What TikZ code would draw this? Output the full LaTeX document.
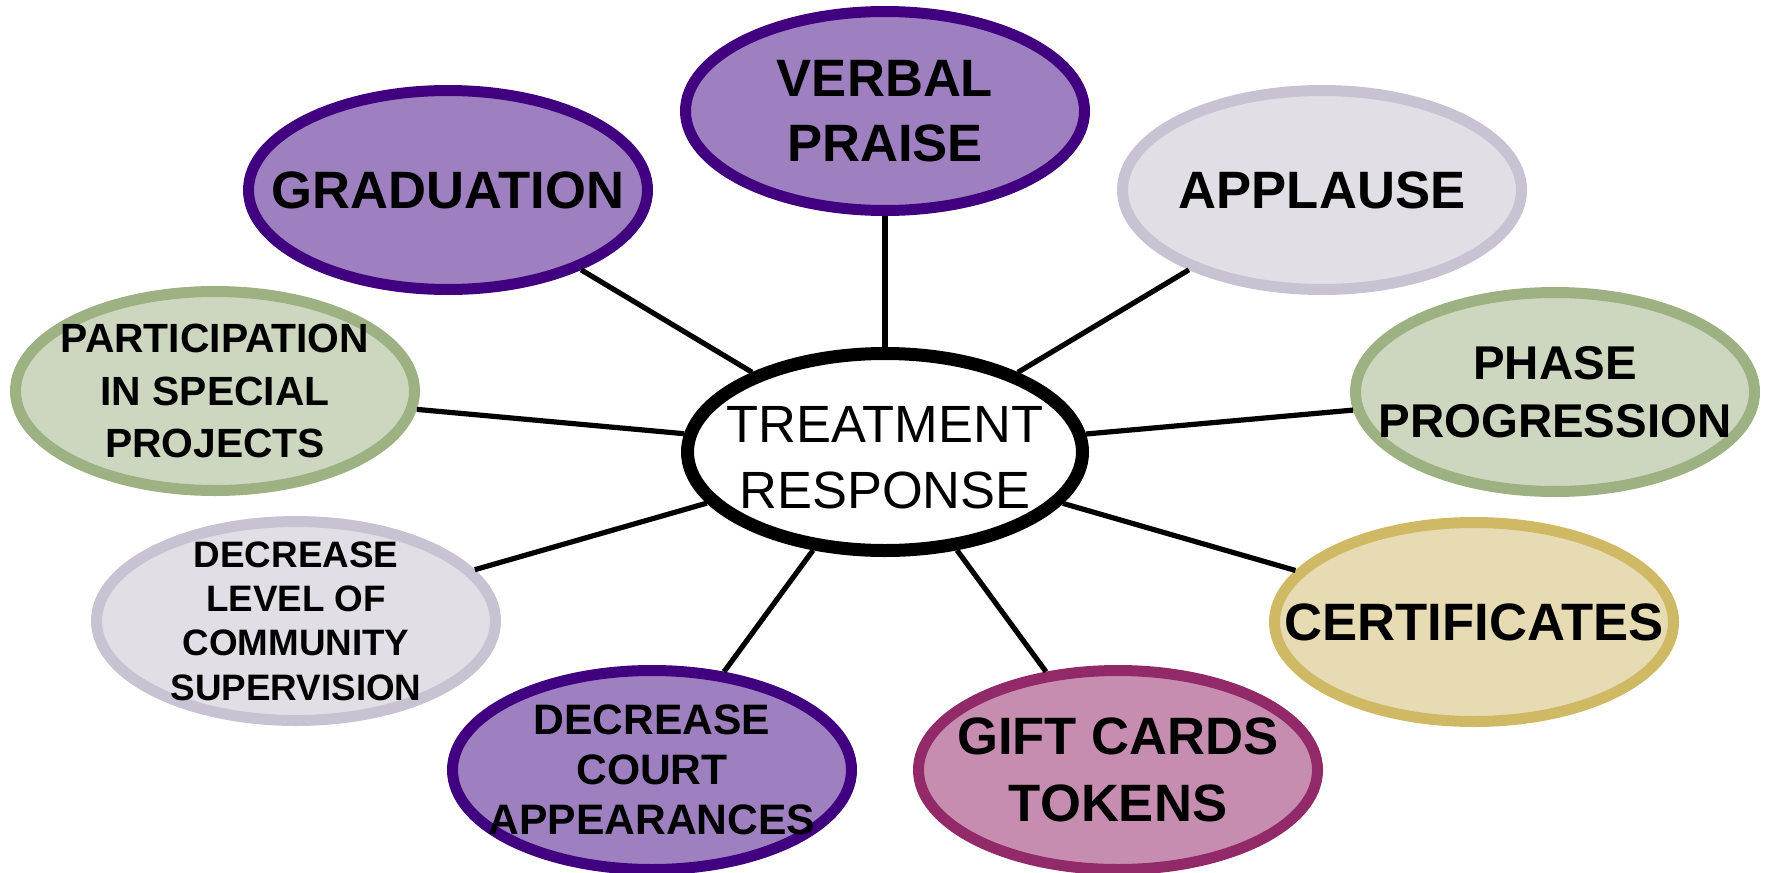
\documentclass[tikz,border=0pt]{standalone}
\usepackage{fontspec}
\setmainfont{Liberation Sans}
\usetikzlibrary{shapes.geometric}
\definecolor{lilacfill}{RGB}{158,127,191}
\definecolor{lilacline}{RGB}{64,0,128}
\definecolor{greyfill}{RGB}{225,222,230}
\definecolor{greyline}{RGB}{200,194,211}
\definecolor{sagefill}{RGB}{205,215,192}
\definecolor{sageline}{RGB}{157,177,130}
\definecolor{goldfill}{RGB}{230,219,178}
\definecolor{goldline}{RGB}{207,185,100}
\definecolor{rosefill}{RGB}{199,141,176}
\definecolor{roseline}{RGB}{146,42,106}
\tikzset{
	bubble/.style={ellipse, line width=5.5pt, minimum width=199.5pt, minimum height=99.5pt, inner sep=-50pt, align=center},
	big/.style={font=\fontsize{26.3}{33}\bfseries\selectfont},
	lilac/.style={bubble, draw=lilacline, fill=lilacfill},
	grey/.style={bubble, draw=greyline, fill=greyfill},
	sage/.style={bubble, draw=sageline, fill=sagefill},
	gold/.style={bubble, draw=goldline, fill=goldfill},
	rose/.style={bubble, draw=roseline, fill=rosefill},
	link/.style={line width=2.6pt}
}
\begin{document}
\begin{tikzpicture}[x=0.5pt, y=-0.5pt, line join=round]
	\useasboundingbox (0,0) rectangle (1765,872);
	% centre
	\node[ellipse, draw, line width=6.5pt, fill=white, minimum width=197.5pt, minimum height=98.5pt, inner sep=-50pt, align=center,
		font=\fontsize{26.2}{32.8}\selectfont] (c) at (885,452) {\rule{0pt}{23.5pt}TREATMENT\\RESPONSE};
	% bubbles
	\node[lilac, big, font=\fontsize{26.3}{32.5}\bfseries\selectfont] (vp) at (885,111) {VERBAL\\PRAISE};
	\node[lilac, big] (gr) at (448,190) {GRADUATION};
	\node[grey, big] (ap) at (1322,190) {APPLAUSE};
	\node[sage, font=\fontsize{20.4}{26.3}\bfseries\selectfont] (pa) at (215,391) {PARTICIPATION\\IN SPECIAL\\PROJECTS};
	\node[sage, font=\fontsize{23.7}{29}\bfseries\selectfont] (ph) at (1555,392) {PHASE\\PROGRESSION};
	\node[grey, font=\fontsize{18.4}{22.2}\bfseries\selectfont] (dl) at (296,621) {DECREASE\\LEVEL OF\\COMMUNITY\\SUPERVISION};
	\node[gold, big] (ce) at (1474,622) {CERTIFICATES};
	\node[lilac, font=\fontsize{21.3}{25}\bfseries\selectfont] (dc) at (652,770) {DECREASE\\COURT\\APPEARANCES};
	\node[rose, big, font=\fontsize{26.3}{33.5}\bfseries\selectfont] (gc) at (1118,770) {GIFT CARDS\\TOKENS};
	% spokes
	\foreach \n in {vp,gr,ap,pa,ph,dl,ce,dc,gc}
		\draw[link] (c) -- (\n);
\end{tikzpicture}
\end{document}
